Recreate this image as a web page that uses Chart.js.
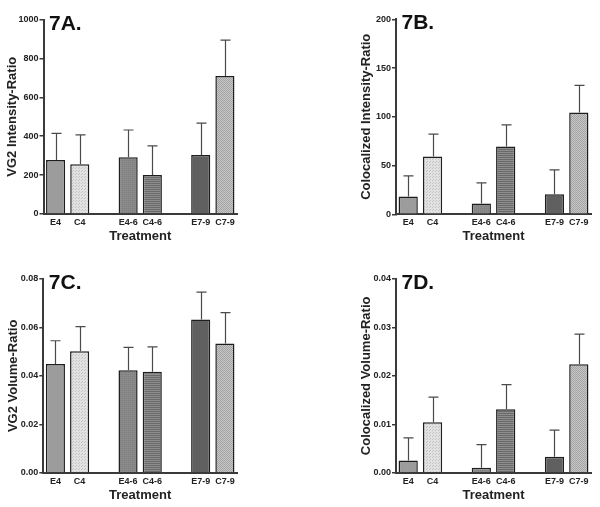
<!DOCTYPE html>
<html>
<head>
<meta charset="utf-8">
<script src="https://cdn.jsdelivr.net/npm/chart.js@4/dist/chart.umd.min.js"></script>
<style>
  html, body { margin: 0; padding: 0; background: #ffffff; }
  body { width: 600px; height: 507px; position: relative; overflow: hidden; }
  .panel { position: absolute; }
</style>
</head>
<body>
<div class="panel" style="left:0;top:0;width:300px;height:250px"><canvas id="cA" width="300" height="250"></canvas></div>
<div class="panel" style="left:300px;top:0;width:300px;height:250px"><canvas id="cB" width="300" height="250"></canvas></div>
<div class="panel" style="left:0;top:250px;width:300px;height:257px"><canvas id="cC" width="300" height="257"></canvas></div>
<div class="panel" style="left:300px;top:250px;width:300px;height:257px"><canvas id="cD" width="300" height="257"></canvas></div>
<script>
// ---- data ----
const categories = ['E4', 'C4', 'E4-6', 'C4-6', 'E7-9', 'C7-9'];
const xTitle = 'Treatment';

const panelLabels = ['7A.', '7B.', '7C.', '7D.'];
const yTitles = ['VG2 Intensity-Ratio', 'Colocalized Intensity-Ratio', 'VG2 Volume-Ratio', 'Colocalized Volume-Ratio'];

const meansA = [278, 256, 292, 200, 303, 709];
const errorsA = [137, 151, 140, 150, 164, 185];
const ticksA = [0, 200, 400, 600, 800, 1000];

const meansB = [18.2, 59.2, 11, 69.5, 20.5, 104.5];
const errorsB = [21.2, 23, 21.2, 22.3, 25, 27.7];
const ticksB = [0, 50, 100, 150, 200];

const meansC = [0.0449, 0.0502, 0.0423, 0.0417, 0.0633, 0.0534];
const errorsC = [0.0096, 0.0101, 0.0095, 0.0103, 0.0113, 0.0127];
const ticksC = [0.00, 0.02, 0.04, 0.06, 0.08];

const meansD = [0.0025, 0.0104, 0.0010, 0.0131, 0.0033, 0.0224];
const errorsD = [0.0047, 0.0052, 0.0048, 0.0051, 0.0055, 0.0062];
const ticksD = [0.00, 0.01, 0.02, 0.03, 0.04];

// ---- styling helpers ----
function makePattern(kind) {
  const c = document.createElement('canvas');
  const g = c.getContext('2d');
  if (kind === 'dots') {
    c.width = 3; c.height = 3;
    g.fillStyle = '#e2e2e2'; g.fillRect(0, 0, 3, 3);
    g.fillStyle = '#c2c2c2'; g.fillRect(0, 0, 1, 1); g.fillRect(1, 2, 1, 1);
  } else if (kind === 'hstripes') {
    c.width = 2; c.height = 2;
    g.fillStyle = '#8e8e8e'; g.fillRect(0, 0, 2, 1);
    g.fillStyle = '#6a6a6a'; g.fillRect(0, 1, 2, 1);
  } else if (kind === 'checker') {
    c.width = 2; c.height = 2;
    g.fillStyle = '#c6c6c6'; g.fillRect(0, 0, 2, 2);
    g.fillStyle = '#a4a4a4'; g.fillRect(0, 0, 1, 1); g.fillRect(1, 1, 1, 1);
  } else if (kind === 'fine') {
    c.width = 2; c.height = 2;
    g.fillStyle = '#8a8a8a'; g.fillRect(0, 0, 2, 2);
    g.fillStyle = '#7e7e7e'; g.fillRect(0, 0, 1, 1);
  }
  return g.createPattern(c, 'repeat');
}
const fills = [
  '#9c9c9c',
  makePattern('dots'),
  makePattern('fine'),
  makePattern('hstripes'),
  '#606060',
  makePattern('checker')
];

// slots: pair groups separated by a blank slot
function slotLabels() {
  const out = [];
  categories.forEach((c, i) => { out.push(c); if (i % 2 === 1 && i < categories.length - 1) out.push(''); });
  return out;
}
function slotValues(arr) {
  const out = [];
  arr.forEach((v, i) => { out.push(v); if (i % 2 === 1 && i < arr.length - 1) out.push(null); });
  return out;
}
function slotFills() {
  const out = [];
  fills.forEach((v, i) => { out.push(v); if (i % 2 === 1 && i < fills.length - 1) out.push('#ffffff'); });
  return out;
}

const errorBarPlugin = {
  id: 'errorBars',
  afterDatasetsDraw(chart, args, opts) {
    const meta = chart.getDatasetMeta(0);
    const ys = chart.scales.y;
    const errs = slotValues(opts.errors);
    const vals = chart.data.datasets[0].data;
    const ctx = chart.ctx;
    ctx.save();
    ctx.strokeStyle = '#4a4a4a';
    ctx.lineWidth = 1.2;
    meta.data.forEach((bar, i) => {
      if (vals[i] == null) return;
      const x = Math.round(bar.x) + 0.5;
      const y0 = bar.y;
      const y1 = ys.getPixelForValue(vals[i] + errs[i]);
      ctx.beginPath();
      ctx.moveTo(x, y0);
      ctx.lineTo(x, y1);
      ctx.moveTo(x - 5, y1);
      ctx.lineTo(x + 5, y1);
      ctx.stroke();
    });
    ctx.restore();
  }
};

const panelLabelPlugin = {
  id: 'panelLabel',
  afterDraw(chart, args, opts) {
    const ctx = chart.ctx;
    ctx.save();
    ctx.font = 'bold 21px "Liberation Sans", Arial, sans-serif';
    ctx.fillStyle = '#111';
    ctx.textAlign = 'left';
    ctx.textBaseline = 'alphabetic';
    ctx.fillText(opts.text, chart.chartArea.left + 5.5, chart.chartArea.top + 10);
    ctx.restore();
  }
};

function makeChart(id, idx, means, errors, ticks, area, canvasH, decimals) {
  const yMax = ticks[ticks.length - 1];
  const step = ticks[1] - ticks[0];
  return new Chart(document.getElementById(id), {
    type: 'bar',
    data: {
      labels: slotLabels(),
      datasets: [{
        data: slotValues(means),
        backgroundColor: slotFills(),
        borderColor: '#1e1e1e',
        borderWidth: 1.5,
        barPercentage: 0.79,
        categoryPercentage: 1.0
      }]
    },
    options: {
      responsive: false,
      animation: false,
      events: [],
      layout: { padding: { left: area.padLeft, right: 300 - area.right, top: area.top, bottom: 0 } },
      plugins: {
        legend: { display: false },
        tooltip: { enabled: false },
        errorBars: { errors: errors },
        panelLabel: { text: panelLabels[idx] }
      },
      scales: {
        x: {
          afterFit(s) { s.height = canvasH - area.bottom; },
          grid: { display: false, drawTicks: false },
          border: { display: true, color: '#3a3a3a', width: 2 },
          ticks: {
            padding: 3,
            autoSkip: false,
            maxRotation: 0,
            color: '#222',
            font: { family: '"Liberation Sans", Arial, sans-serif', size: 9, weight: 'bold' }
          },
          title: {
            display: true,
            text: xTitle,
            color: '#222',
            padding: { top: 0, bottom: area.titleBottom },
            font: { family: '"Liberation Sans", Arial, sans-serif', size: 13, weight: 'bold' }
          }
        },
        y: {
          min: 0,
          max: yMax,
          afterFit(s) { s.width = area.left - area.padLeft; },
          afterBuildTicks(s) { s.ticks = ticks.map(v => ({ value: v })); },
          grid: { display: true, drawOnChartArea: false, drawTicks: true, tickLength: 4, color: '#3a3a3a', lineWidth: 1.5 },
          border: { display: true, color: '#3a3a3a', width: 2 },
          ticks: {
            stepSize: step,
            padding: 1,
            color: '#222',
            font: { family: '"Liberation Sans", Arial, sans-serif', size: 9, weight: 'bold' },
            callback(v) { return decimals ? Number(v).toFixed(decimals) : String(v); }
          },
          title: {
            display: true,
            text: yTitles[idx],
            color: '#222',
            padding: { top: 5, bottom: 0 },
            font: { family: '"Liberation Sans", Arial, sans-serif', size: 13, weight: 'bold' }
          }
        }
      }
    },
    plugins: [errorBarPlugin, panelLabelPlugin]
  });
}

makeChart('cA', 0, meansA, errorsA, ticksA, { padLeft: 0, left: 43.5, right: 237, top: 19.5, bottom: 214, titleBottom: 6 }, 250, 0);
makeChart('cB', 1, meansB, errorsB, ticksB, { padLeft: 53.5, left: 96, right: 291, top: 19.3, bottom: 214.3, titleBottom: 6 }, 250, 0);
makeChart('cC', 2, meansC, errorsC, ticksC, { padLeft: 1, left: 43.3, right: 237, top: 29, bottom: 222.7, titleBottom: 4 }, 257, 2);
makeChart('cD', 3, meansD, errorsD, ticksD, { padLeft: 53.5, left: 96, right: 291, top: 29, bottom: 222.7, titleBottom: 4 }, 257, 2);
</script>
</body>
</html>
